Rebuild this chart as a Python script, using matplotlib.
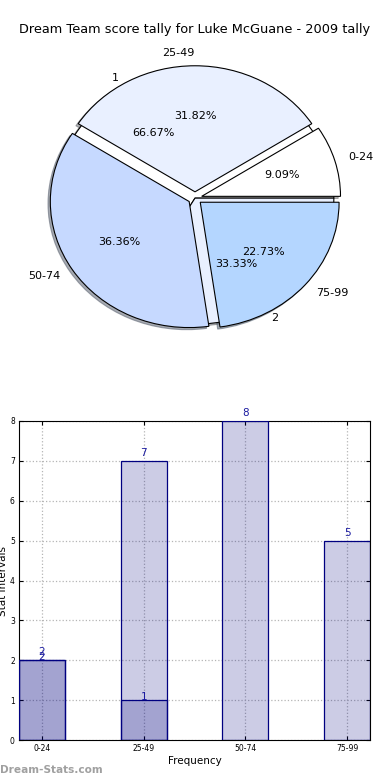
import matplotlib
matplotlib.use("Agg")
import matplotlib.pyplot as plt
import numpy as np

# score intervals and tallies
intervals = ["0-24", "25-49", "50-74", "75-99"]
tally = [2, 7, 8, 5]
# second series (only first two intervals)
second_labels = ["1", "2"]
second_tally = [2, 1]

pie_colors = ["#ffffff", "#e9f0ff", "#c6d9ff", "#b4d6ff"]
second_colors = ["#ffffff", "#e9f0ff"]

title = "Dream Team score tally for Luke McGuane - 2009 tally"

fig = plt.figure(figsize=(3.9, 7.8), dpi=100)
fig.patch.set_facecolor("white")

# ---- pie ----
ax1 = fig.add_axes([0.055, 0.544, 0.89, 0.404])
wp = {"edgecolor": "black", "linewidth": 0.8}
shad = {"ox": -0.012, "oy": -0.012, "shade": 0.6}
ax1.pie(second_tally, labels=second_labels, colors=second_colors,
        autopct="%1.2f%%", pctdistance=0.6, labeldistance=1.1,
        shadow=shad, startangle=0, wedgeprops=wp,
        textprops={"fontsize": 8})
ax1.pie(tally, labels=intervals, colors=pie_colors, explode=[0.05] * 4,
        autopct="%1.2f%%", pctdistance=0.6, labeldistance=1.1,
        shadow=shad, startangle=0, wedgeprops=wp,
        textprops={"fontsize": 8})
ax1.set_aspect("auto")
ax1.set_xlim(-1.25, 1.25)
ax1.set_ylim(-1.25, 1.25)
fig.text(0.5, 1 - 30 / 780, title, ha="center", va="center", fontsize=9.3)

# ---- bars ----
ax2 = fig.add_axes([19 / 390, 40 / 780, 351 / 390, 319 / 780])
x = np.arange(len(intervals))
w = 0.45
ax2.bar(x, tally, w, color="navy", alpha=0.2, zorder=2)
ax2.bar(x, tally, w, facecolor="none", edgecolor="navy", linewidth=0.9, zorder=3)
x2 = x[:len(second_tally)]
ax2.bar(x2, second_tally, w, color="navy", alpha=0.2, zorder=2)
ax2.bar(x2, second_tally, w, facecolor="none", edgecolor="navy", linewidth=0.9, zorder=3)

for xi, v in zip(x, tally):
    ax2.annotate(str(v), (xi, v), xytext=(0, 2), textcoords="offset points",
                 ha="center", va="bottom", fontsize=7.5, color="#1a1aa0")
for xi, v in zip(x2, second_tally):
    ax2.annotate(str(v), (xi, v), xytext=(0, 2), textcoords="offset points",
                 ha="center", va="center", fontsize=7.5, color="#1a1aa0")

ax2.set_xlim(-w / 2, len(intervals) - 1 + w / 2)
ax2.set_ylim(0, 8)
ax2.set_xticks(x)
ax2.set_xticklabels(intervals)
ax2.set_yticks(range(9))
ax2.tick_params(direction="in", length=3, labelsize=5.5, top=True, right=True, pad=3)
ax2.grid(True, linestyle=":", color="#b5b5b5", linewidth=0.9, zorder=0)
ax2.set_axisbelow(True)
ax2.set_xlabel("Frequency", fontsize=7.5, labelpad=2)
ax2.set_ylabel("Stat Intervals", fontsize=7.5)
ax2.yaxis.set_label_coords(-0.031, 0.5)

fig.text(0.0, 1 - 770 / 780, "Dream-Stats.com", ha="left", va="center",
         fontsize=7.6, color="#a0a0a0", fontweight="bold")

fig.savefig("out.png", dpi=100)
